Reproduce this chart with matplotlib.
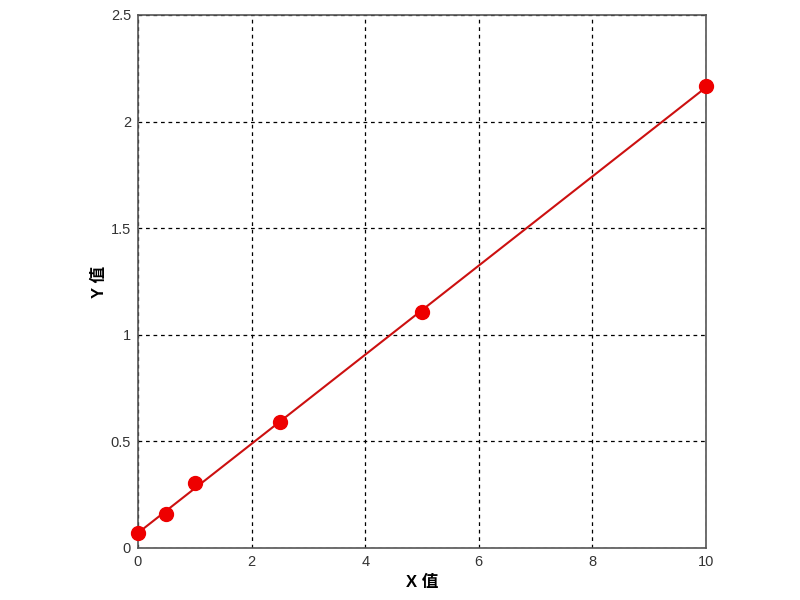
import numpy as np
import matplotlib
matplotlib.use("Agg")
import matplotlib.pyplot as plt

plt.rcParams['font.family'] = ['Liberation Sans', 'Noto Sans CJK SC', 'DejaVu Sans']

x_vals = [0, 0.5, 1, 2.5, 5, 10]
y_vals = [0.07, 0.16, 0.305, 0.59, 1.105, 2.165]
x_ticks = [0, 2, 4, 6, 8, 10]
y_ticks = [0, 0.5, 1, 1.5, 2, 2.5]
y_tick_labels = ['0', '0.5', '1', '1.5', '2', '2.5']

fig = plt.figure(figsize=(8, 6), dpi=100)
ax = fig.add_axes([0.1725, 0.0867, 0.71, 0.8883])

coef = np.polyfit(x_vals, y_vals, 1)
xf = np.array([min(x_vals), max(x_vals)])
ax.plot(xf, np.polyval(coef, xf), color='#cc1010', lw=1.5, zorder=3)
ax.plot(x_vals, y_vals, 'o', color='#ee0000', markersize=10, zorder=4, clip_on=False)

ax.set_xlim(0, 10)
ax.set_ylim(0, 2.5)
ax.set_xticks(x_ticks)
ax.set_yticks(y_ticks)
ax.set_yticklabels(y_tick_labels)
ax.grid(True, linestyle=(0, (3, 3)), color='black', lw=0.9)
ax.set_axisbelow(True)
for s in ax.spines.values():
    s.set_color('#555555')
    s.set_linewidth(1.2)
ax.tick_params(labelsize=10.5, colors='#333333', direction='in', length=0, pad=5)
ax.set_xlabel('X 值', fontsize=12, fontweight='bold', labelpad=4)
ax.set_ylabel('Y 值', fontsize=12, fontweight='bold', labelpad=3)

fig.savefig('out.png', dpi=100)
